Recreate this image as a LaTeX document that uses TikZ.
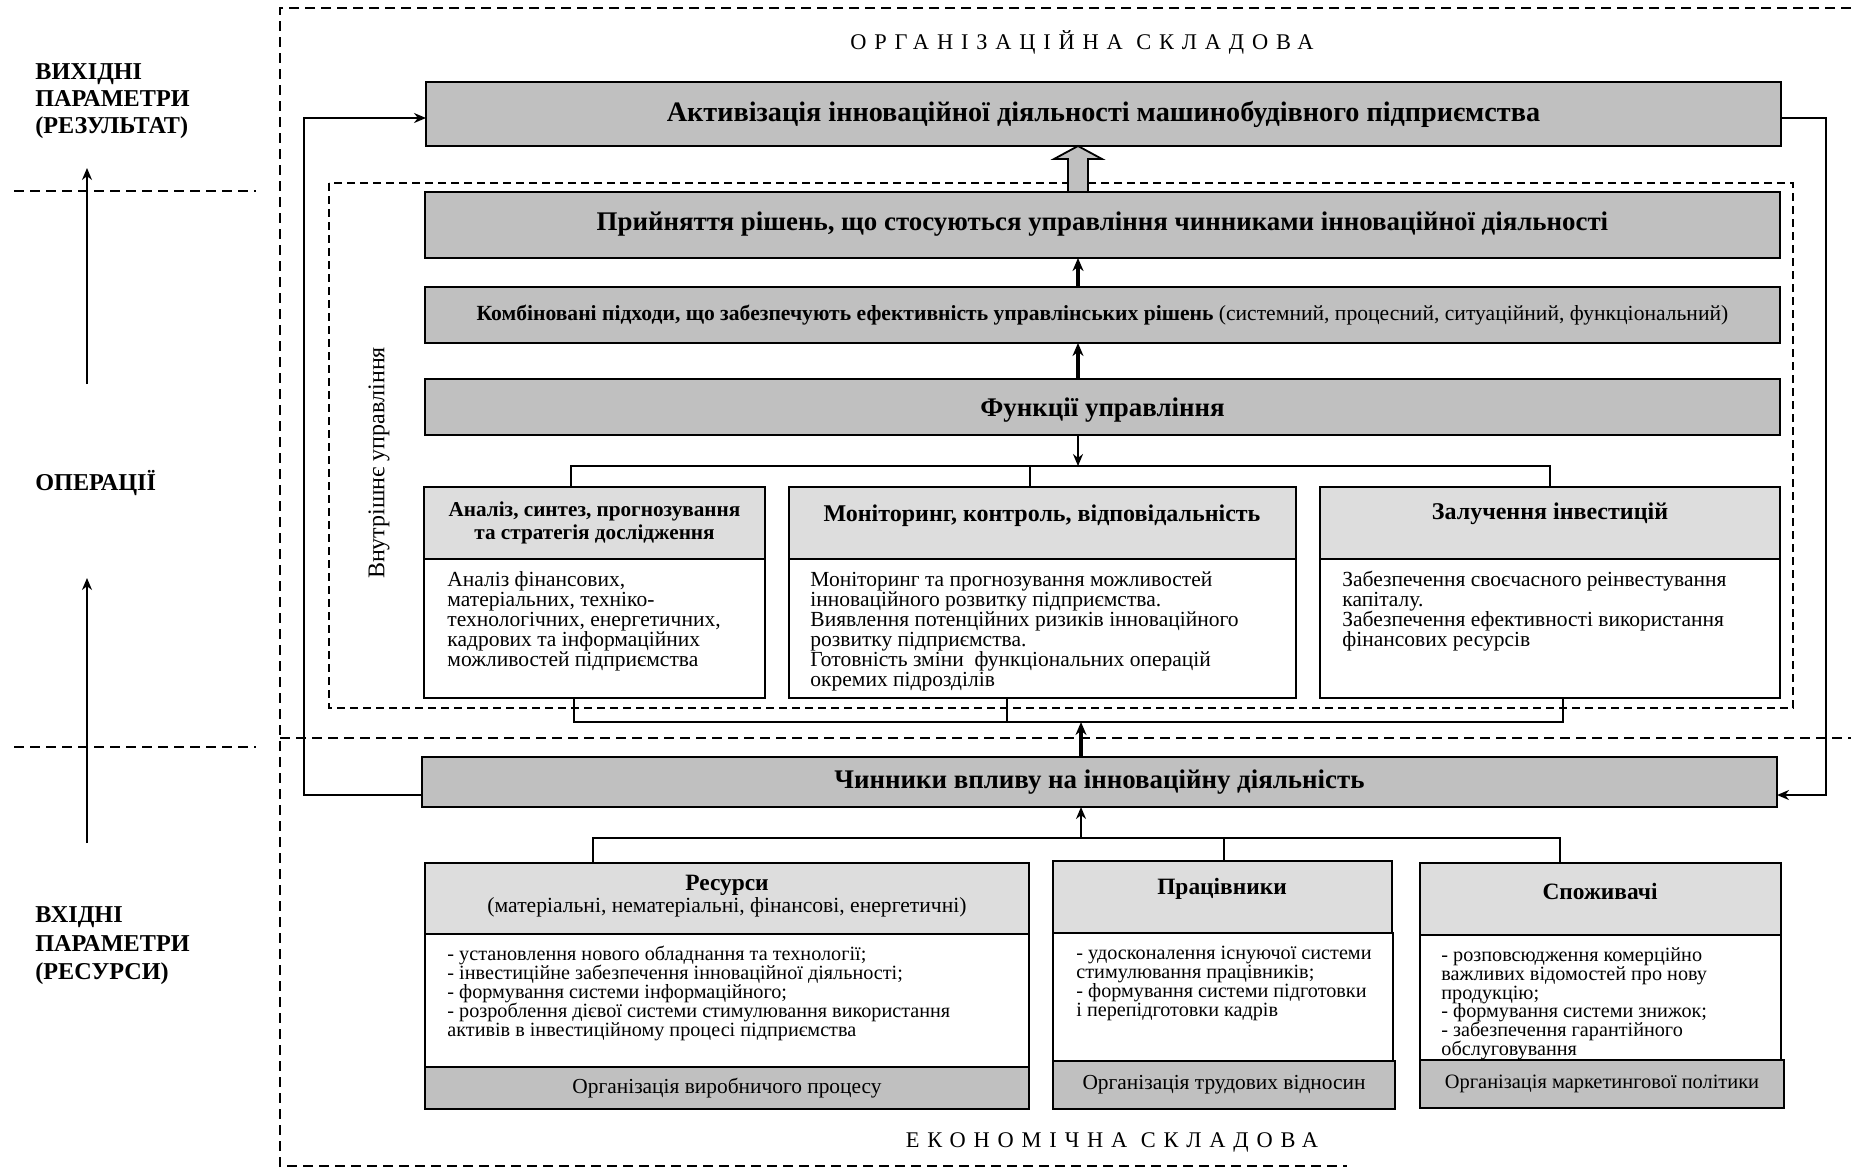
\documentclass[tikz,border=0pt]{standalone}
\usepackage{fontspec}
\setmainfont{Liberation Serif}
\newfontfamily\spacedfont[LetterSpace=35]{Liberation Serif}
\usetikzlibrary{arrows.meta,calc}
\definecolor{gdark}{RGB}{192,192,192}
\definecolor{glight}{RGB}{221,221,221}
% font presets
\newcommand\fixlead{\lineskiplimit=-20pt\relax}
\newcommand\fAct{\bfseries\fontsize{14.1}{16}\selectfont}
\newcommand\fTitle{\bfseries\fontsize{13.45}{15}\selectfont}
\newcommand\fComb{\fontsize{10.8}{13}\selectfont}
\newcommand\fSubA{\bfseries\fontsize{10.6}{11.2}\selectfont\fixlead}
\newcommand\fSub{\bfseries\fontsize{12}{13}\selectfont}
\newcommand\fSubR{\bfseries\fontsize{11.7}{13}\selectfont}
\newcommand\fBody{\fontsize{10.75}{10}\selectfont\fixlead}
\newcommand\fBodyB{\fontsize{10.1}{9.45}\selectfont\fixlead}
\newcommand\fFoot{\fontsize{10.7}{12}\selectfont}
\newcommand\fFootS{\fontsize{10.2}{12}\selectfont}
\newcommand\fNote{\fontsize{10.8}{12}\selectfont}
\newcommand\fSide{\bfseries\fontsize{12.1}{13.4}\selectfont\fixlead}
\newcommand\fSideB{\bfseries\fontsize{12.1}{14.2}\selectfont\fixlead}
\newcommand\fVert{\fontsize{12}{14}\selectfont}
\newcommand\fSect{\spacedfont\fontsize{11.2}{12}\selectfont}
\begin{document}
\begin{tikzpicture}[x=0.5pt,y=-0.5pt,
  % a box given by its corners x1,y1,x2,y2 (pixel grid, y downwards)
  area/.style args={#1,#2,#3,#4}{minimum width={(#3-#1)*0.5pt},minimum height={(#4-#2)*0.5pt},at={({(#1+#3)/2},{(#2+#4)/2})}},
  frame/.style={draw=black,line width=1.1pt,inner sep=0pt,outer sep=0pt,rectangle},
  darkbox/.style={frame,fill=gdark},
  lightbox/.style={frame,fill=glight},
  whitebox/.style={frame,fill=white},
  bodytxt/.style={inner sep=0pt,align=left,anchor=north west,font=\fBody},
  bodytxtb/.style={inner sep=0pt,align=left,anchor=north west,font=\fBodyB},
  sidelabel/.style={inner sep=0pt,anchor=west,align=left,font=\fSide},
  link/.style={line width=0.9pt},
  arr/.style={link,-{Stealth[length=6pt,width=5pt]}},
  thickarr/.style={line width=2pt,-{Stealth[length=6.5pt,width=5.5pt]}},
  outerdash/.style={line width=0.7pt,dash pattern=on 5pt off 3pt},
  innerdash/.style={line width=0.7pt,dash pattern=on 4pt off 2.5pt},
]
\useasboundingbox (0,0) rectangle (1851,1169);

% dashed zones
\draw[outerdash] (1851,8) -- (280,8) -- (280,1166) -- (1347,1166);
\draw[outerdash] (280,738) -- (1851,738);
\draw[innerdash] (329,183) rectangle (1793,708);
\draw[outerdash] (14,191) -- (256,191);
\draw[outerdash] (14,747) -- (256,747);

% zone captions
\node[font=\fSect] (org) at (1082,42) {ОРГАНІЗАЦІЙНА СКЛАДОВА};
\node[font=\fSect] (eco) at (1112,1142) {ЕКОНОМІЧНА СКЛАДОВА};
\node[rotate=90,font=\fVert] (inner) at (379,463) {Внутрішнє управління};

% left column
\node[sidelabel] (outp) at (35,101) {ВИХІДНІ\\ПАРАМЕТРИ\\(РЕЗУЛЬТАТ)};
\node[sidelabel] (ops) at (35,483) {ОПЕРАЦІЇ};
\node[sidelabel,font=\fSideB] (inp) at (35,946) {ВХІДНІ\\ПАРАМЕТРИ\\(РЕСУРСИ)};
\coordinate (u1s) at (87,384);
\coordinate (u1e) at (87,168);
\coordinate (u2s) at (87,843);
\coordinate (u2e) at (87,578);
\draw[arr] (u1s) -- (u1e);
\draw[arr] (u2s) -- (u2e);

% main chain
\node[darkbox,area={426,82,1781,146},font=\fAct] (act) {Активізація інноваційної діяльності машинобудівного підприємства};
\node[darkbox,area={425,192,1780,258},font=\fTitle,text depth=3.6pt] (dec) {Прийняття рішень, що стосуються управління чинниками інноваційної діяльності};
\node[darkbox,area={425,287,1780,343},font=\fComb] (comb) {\textbf{Комбіновані підходи, що забезпечують ефективність управлінських рішень} (системний, процесний, ситуаційний, функціональний)};
\node[darkbox,area={425,379,1780,435},font=\fTitle,text depth=0pt] (func) {Функції управління};

% management functions
\node[lightbox,area={424,487,765,559},font=\fSubA,align=center] (hA) {Аналіз, синтез, прогнозування\\та стратегія дослідження};
\node[whitebox,area={424,559,765,698}] (bA) {};
\node[bodytxt] (tA) at (447,571) {Аналіз фінансових,\\матеріальних, техніко-\\технологічних, енергетичних,\\кадрових та інформаційних\\можливостей підприємства};

\node[lightbox,area={789,487,1296,559}] (hB) {};
\node[font=\fSub] (hBt) at (1042,516) {Моніторинг, контроль, відповідальність};
\node[whitebox,area={789,559,1296,698}] (bB) {};
\node[bodytxt] (tB) at (810,571) {Моніторинг та прогнозування можливостей\\інноваційного розвитку підприємства.\\Виявлення потенційних ризиків інноваційного\\розвитку підприємства.\\Готовність зміни\ \ функціональних операцій\\окремих підрозділів};

\node[lightbox,area={1320,487,1780,559}] (hC) {};
\node[font=\fSub] (hCt) at (1550,514) {Залучення інвестицій};
\node[whitebox,area={1320,559,1780,698}] (bC) {};
\node[bodytxt] (tC) at (1342,571) {Забезпечення своєчасного реінвестування\\капіталу.\\Забезпечення ефективності використання\\фінансових ресурсів};

% influence factors
\node[darkbox,area={422,757,1777,807},font=\fTitle] (chin) {Чинники впливу на інноваційну діяльність};

% resources
\node[lightbox,area={425,863,1029,934}] (hR) {};
\node[font=\fSubR] (hRt) at (727,885) {Ресурси};
\node[font=\fNote] (hRn) at (727,907) {(матеріальні, нематеріальні, фінансові, енергетичні)};
\node[whitebox,area={425,934,1029,1067}] (bR) {};
\node[bodytxtb] (tR) at (447,946) {- установлення нового обладнання та технології;\\- інвестиційне забезпечення інноваційної діяльності;\\- формування системи інформаційного;\\- розроблення дієвої системи стимулювання використання\\активів в інвестиційному процесі підприємства};
\node[darkbox,area={425,1067,1029,1109},font=\fFoot] (fR) {Організація виробничого процесу};

% staff
\node[lightbox,area={1053,861,1392,933}] (hP) {};
\node[font=\fSubR] (hPt) at (1222,889) {Працівники};
\node[whitebox,area={1053,933,1393,1061}] (bP) {};
\node[bodytxtb] (tP) at (1076,946) {- удосконалення існуючої системи\\стимулювання працівників;\\- формування системи підготовки\\і перепідготовки кадрів};
\node[darkbox,area={1053,1061,1395,1109},font=\fFoot] (fP) {Організація трудових відносин};

% consumers
\node[lightbox,area={1420,863,1781,935}] (hS) {};
\node[font=\fSubR] (hSt) at (1600,891) {Споживачі};
\node[whitebox,area={1420,935,1781,1060}] (bS) {};
\node[bodytxtb] (tS) at (1441,947) {- розповсюдження комерційно\\важливих відомостей про нову\\продукцію;\\- формування системи знижок;\\- забезпечення гарантійного\\обслуговування};
\node[darkbox,area={1420,1060,1784,1108},font=\fFootS] (fS) {Організація маркетингової політики};

% hollow arrow between decisions and activation
\coordinate (ax) at (1078,0);
\path (act.south -| ax) coordinate (ht) (dec.north -| ax) coordinate (hb);
\draw[line width=0.9pt,fill=gdark] ($(hb)+(-10,0)$) -- ($(ht)+(-10,13)$) -- ($(ht)+(-24,13)$) -- (ht) -- ($(ht)+(24,13)$) -- ($(ht)+(10,13)$) -- ($(hb)+(10,0)$) -- cycle;

% upward chain
\draw[thickarr] (comb.north -| ax) -- (dec.south -| ax);
\draw[thickarr] (func.north -| ax) -- (comb.south -| ax);

% distribution to the three functions
\coordinate (tl) at (571,466);
\coordinate (tm) at (1030,466);
\coordinate (tr) at (1550,466);
\draw[link] (hA.north -| tl) -- (tl) -- (tr) -- (hC.north -| tr);
\draw[link] (tm) -- (hB.north -| tm);
\draw[arr] (func.south -| ax) -- (ax |- tl);

% collection below the three functions
\coordinate (bl) at (574,722);
\coordinate (bm) at (1007,722);
\coordinate (br) at (1563,722);
\draw[link] (bA.south -| bl) -- (bl) -- (br) -- (bC.south -| br);
\draw[link] (bB.south -| bm) -- (bm);
\coordinate (cx) at (1081,0);
\draw[thickarr] (chin.north -| cx) -- (cx |- bl);

% collection above the three resource groups
\coordinate (ql) at (593,838);
\coordinate (qm) at (1224,838);
\coordinate (qr) at (1560,838);
\draw[link] (hR.north -| ql) -- (ql) -- (qr) -- (hS.north -| qr);
\draw[link] (qm) -- (hP.north -| qm);
\draw[arr] (cx |- ql) -- (chin.south -| cx);

% feedback loop
\draw[arr] ([yshift=-6.5pt]chin.west) -- ++(-118,0) |- ([yshift=-2pt]act.west);
\draw[arr] ([yshift=-2pt]act.east) -- ++(45,0) |- ([yshift=-6.5pt]chin.east);
\end{tikzpicture}
\end{document}
